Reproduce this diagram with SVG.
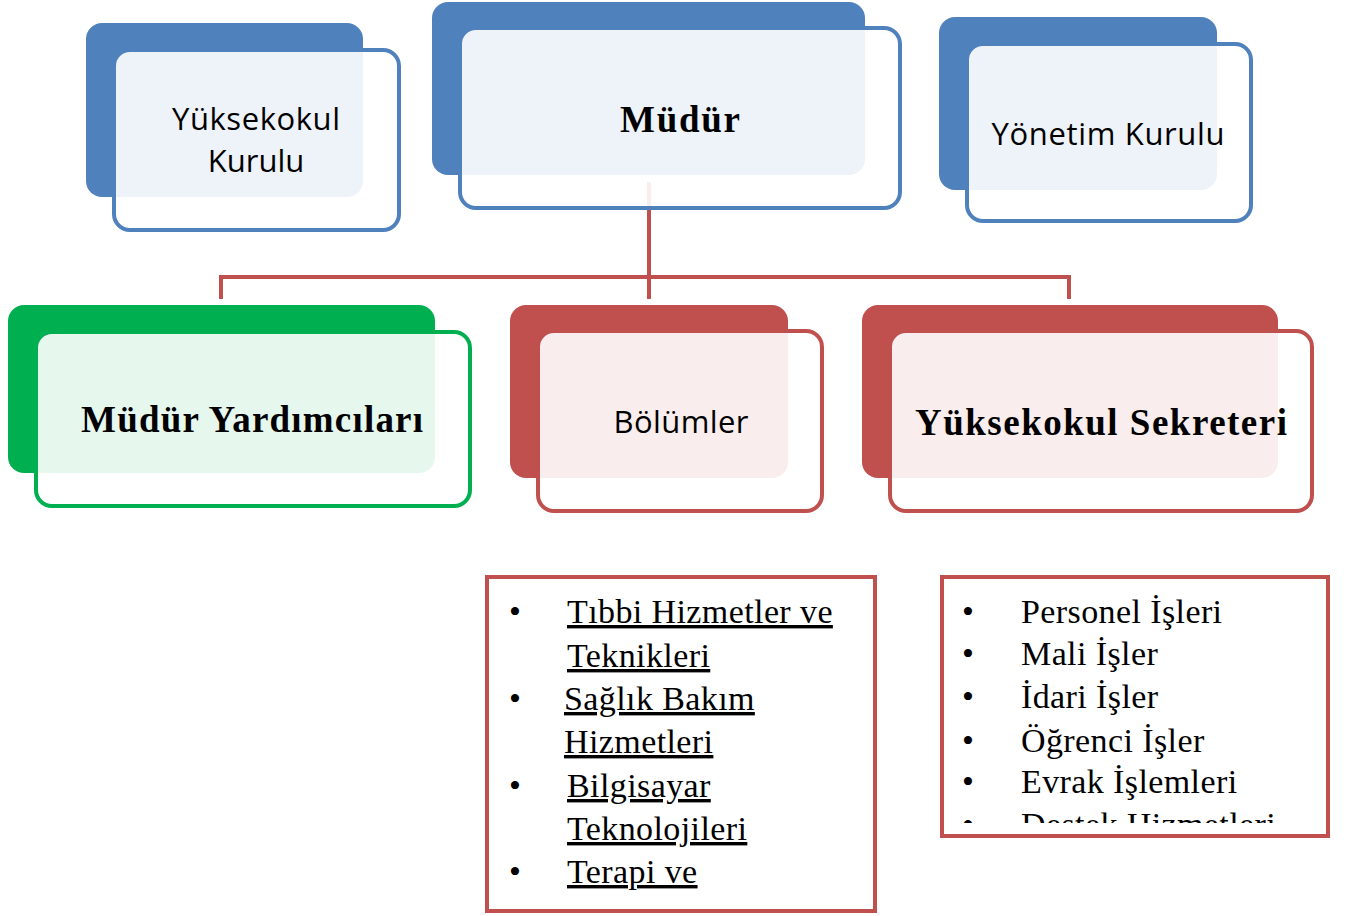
<svg xmlns="http://www.w3.org/2000/svg" width="1355" height="916" viewBox="0 0 1355 916">
<style>
.bb{fill:#4f81bd}
.bg{fill:#00b050}
.br{fill:#c0504d}
.fb{fill:#fff;fill-opacity:0.9;stroke:#4f81bd;stroke-width:4}
.fg{fill:#fff;fill-opacity:0.9;stroke:#00b050;stroke-width:4}
.fr{fill:#fff;fill-opacity:0.9;stroke:#c0504d;stroke-width:4}
.sans{font-family:"Open Sans","Noto Sans",sans-serif;font-size:31px;fill:#000;text-anchor:middle}
.bold{font-family:"Liberation Serif","DejaVu Serif",serif;font-size:37px;font-weight:bold;fill:#000;text-anchor:middle}
.li{font-family:"Liberation Serif","DejaVu Serif",serif;font-size:34px;letter-spacing:0.4px;fill:#000}
.u{text-decoration:underline}
.conn{fill:none;stroke:#c0504d;stroke-width:4}
.box{fill:#fff;stroke:#c0504d;stroke-width:4}
</style>
<defs>
<clipPath id="clip2"><rect x="944" y="579" width="382" height="244"/></clipPath>
</defs>
<g id="connectors">
<path class="conn" d="M649 182 V277 M221 299 V277 H1069 V299 M649 277 V299"/>
</g>
<g id="node-yuksekokul-kurulu">
<rect class="bb" x="86" y="23" width="277" height="174" rx="16"/>
<rect class="fb" x="114" y="50" width="285" height="180" rx="16"/>
<text class="sans" x="256" y="130" textLength="168">Yüksekokul</text>
<text class="sans" x="256" y="172">Kurulu</text>
</g>
<g id="node-mudur">
<rect class="bb" x="432" y="2" width="433" height="173" rx="16"/>
<rect class="fb" x="460" y="28" width="440" height="180" rx="16"/>
<text class="bold" x="680" y="132" textLength="120">Müdür</text>
</g>
<g id="node-yonetim-kurulu">
<rect class="bb" x="939" y="17" width="278" height="173" rx="16"/>
<rect class="fb" x="967" y="44" width="284" height="177" rx="16"/>
<text class="sans" x="1108" y="145" textLength="233">Yönetim Kurulu</text>
</g>
<g id="node-mudur-yardimcilari">
<rect class="bg" x="8" y="305" width="427" height="168" rx="16"/>
<rect class="fg" x="36" y="332" width="434" height="174" rx="16"/>
<text class="bold" x="252" y="432" textLength="342">Müdür Yardımcıları</text>
</g>
<g id="node-bolumler">
<rect class="br" x="510" y="305" width="278" height="173" rx="16"/>
<rect class="fr" x="538" y="331" width="284" height="180" rx="16"/>
<text class="sans" x="681" y="433" textLength="135">Bölümler</text>
</g>
<g id="node-yuksekokul-sekreteri">
<rect class="br" x="862" y="305" width="416" height="173" rx="16"/>
<rect class="fr" x="890" y="331" width="422" height="180" rx="16"/>
<text class="bold" x="1101" y="435" textLength="372">Yüksekokul Sekreteri</text>
</g>
<g id="list-bolumler">
<rect class="box" x="487" y="577" width="388" height="334"/>
<g class="li">
<text x="509" y="623">•</text>
<text x="509" y="710">•</text>
<text x="509" y="797">•</text>
<text x="509" y="883">•</text>
<text class="u" x="567" y="623">Tıbbi Hizmetler ve</text>
<text class="u" x="567" y="667">Teknikleri</text>
<text class="u" x="564" y="710">Sağlık Bakım</text>
<text class="u" x="564" y="753">Hizmetleri</text>
<text class="u" x="567" y="797">Bilgisayar</text>
<text class="u" x="567" y="840">Teknolojileri</text>
<text class="u" x="567" y="883">Terapi ve</text>
</g>
</g>
<g id="list-sekreter">
<rect class="box" x="942" y="577" width="386" height="259"/>
<g class="li" clip-path="url(#clip2)">
<text x="962" y="623">•</text>
<text x="962" y="665">•</text>
<text x="962" y="708">•</text>
<text x="962" y="752">•</text>
<text x="962" y="793">•</text>
<text x="962" y="836">•</text>
<text x="1021" y="623">Personel İşleri</text>
<text x="1021" y="665">Mali İşler</text>
<text x="1021" y="708">İdari İşler</text>
<text x="1021" y="752">Öğrenci İşler</text>
<text x="1021" y="793">Evrak İşlemleri</text>
<text x="1021" y="836">Destek Hizmetleri</text>
</g>
</g>
</svg>
